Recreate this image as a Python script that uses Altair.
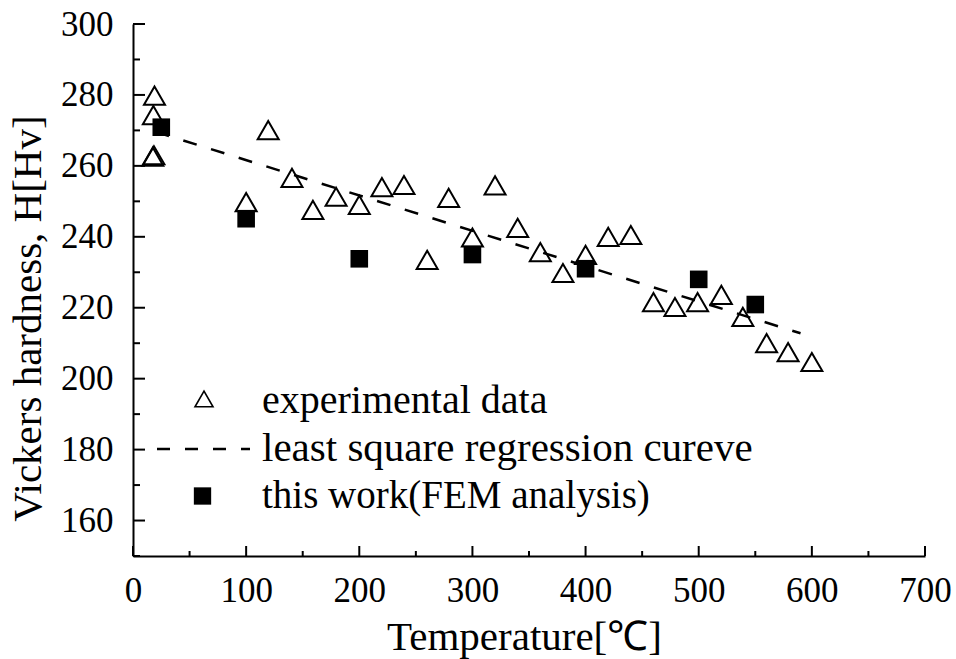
import altair as alt
import pandas as pd

# Experimental Vickers hardness measurements
exp_temp = [19, 18, 17.5, 18.5, 100, 119.5, 140.5, 159, 179.5, 200, 220, 239.5,
            260, 279, 300, 320, 340, 360, 380, 400, 420, 440, 460, 479, 499,
            520, 539, 560, 579, 600]
exp_hv = [279.8, 274.3, 262.6, 263.0, 249.8, 270.1, 256.6, 247.6, 251.3, 249.0,
          254.0, 254.6, 233.5, 251.0, 239.8, 254.5, 242.5, 235.7, 229.8, 234.9,
          240.0, 240.5, 221.6, 220.2, 221.6, 223.6, 217.4, 210.0, 207.5, 204.7]

# FEM analysis results
fem_temp = [25, 100, 200, 300, 400, 500, 550]
fem_hv = [270.9, 245.1, 233.8, 235.0, 231.0, 228.0, 220.9]

# Least-square regression line end points
fit_temp = [20, 590]
fit_hv = [269.6, 212.8]

# Axis ticks
x_major = list(range(0, 701, 100))
x_minor = list(range(50, 700, 100))
y_major = list(range(160, 301, 20))
y_minor = list(range(150, 300, 20))

legend_labels = ["experimental data", "least square regression cureve",
                 "this work(FEM analysis)"]

FONT = "Liberation Serif"
W, H = 792, 532

xs = alt.Scale(domain=[0, 700], nice=False, zero=False)
ys = alt.Scale(domain=[150, 300], nice=False, zero=False)

x_axis = alt.Axis(
    values=x_major, ticks=False, grid=False, domainColor="black", domainWidth=2,
    labelFont=FONT, labelFontSize=35, labelColor="black", labelPadding=17,
    labelBaseline="top", labelFlush=False,
    title="Temperature[℃]", titleFont=FONT, titleFontSize=41,
    titleFontWeight="normal", titleColor="black",
    titleX=391, titleY=93, titleBaseline="alphabetic",
)
y_axis = alt.Axis(
    values=y_major, ticks=False, grid=False, domainColor="black", domainWidth=2,
    labelFont=FONT, labelFontSize=35, labelColor="black", labelPadding=20,
    labelBaseline="middle", labelFlush=False,
    title="Vickers hardness, H[Hv]", titleFont=FONT, titleFontSize=41,
    titleFontWeight="normal", titleColor="black", titleAngle=270,
    titleX=-93, titleY=294, titleBaseline="alphabetic",
)

X = alt.X("x:Q", scale=xs, axis=x_axis)
Y = alt.Y("y:Q", scale=ys, axis=y_axis)

exp_df = pd.DataFrame({"x": exp_temp, "y": exp_hv})
fem_df = pd.DataFrame({"x": fem_temp, "y": fem_hv})
fit_df = pd.DataFrame({"x": fit_temp, "y": fit_hv})

fit_line = alt.Chart(fit_df).mark_line(
    color="black", strokeWidth=2.5, strokeDash=[14, 15]
).encode(x=X, y=Y)

exp_pts = alt.Chart(exp_df).mark_point(
    shape="triangle-up", size=441, filled=False, stroke="black",
    strokeWidth=2, opacity=1
).encode(x=X, y=Y)

fem_pts = alt.Chart(fem_df).mark_point(
    shape="square", size=310, filled=True, color="black", opacity=1
).encode(x=X, y=Y)

# Inward-facing tick marks
def x_ticks(vals, length):
    return alt.Chart(pd.DataFrame({"x": vals})).mark_rule(
        color="black", strokeWidth=2
    ).encode(x=X, y=alt.value(H), y2=alt.value(H - length))


def y_ticks(vals, length):
    return alt.Chart(pd.DataFrame({"y": vals})).mark_rule(
        color="black", strokeWidth=2
    ).encode(y=Y, x=alt.value(0), x2=alt.value(length))


ticks = [x_ticks(x_major, 10), x_ticks(x_minor, 5),
         y_ticks(y_major, 12), y_ticks(y_minor, 7)]

# Legend block in the lower-left corner of the plot
one = pd.DataFrame({"k": [0]})
leg_tri = alt.Chart(one).mark_point(
    shape="triangle-up", size=324, filled=False, stroke="black",
    strokeWidth=1.6, opacity=1
).encode(x=alt.value(71), y=alt.value(375))
leg_line = alt.Chart(one).mark_rule(
    color="black", strokeWidth=2.5, strokeDash=[13, 15]
).encode(x=alt.value(24), x2=alt.value(117), y=alt.value(425))
leg_sq = alt.Chart(one).mark_point(
    shape="square", size=300, filled=True, color="black", opacity=1
).encode(x=alt.value(69.5), y=alt.value(472))

leg_text = []
for label, yy, fs in zip(legend_labels, [389, 437, 484], [40, 41, 39]):
    leg_text.append(
        alt.Chart(pd.DataFrame({"label": [label]})).mark_text(
            align="left", baseline="alphabetic", font=FONT, fontSize=fs,
            color="black"
        ).encode(x=alt.value(129), y=alt.value(yy), text="label:N")
    )

chart = alt.layer(
    fit_line, exp_pts, fem_pts, *ticks, leg_tri, leg_line, leg_sq, *leg_text
).properties(
    width=W, height=H,
    autosize=alt.AutoSizeParams(type="none"),
    padding={"left": 133, "top": 24, "right": 31, "bottom": 103},
    background="white",
).configure_view(stroke=None)

chart.save("out.html", embed_options={"renderer": "svg", "actions": False})
